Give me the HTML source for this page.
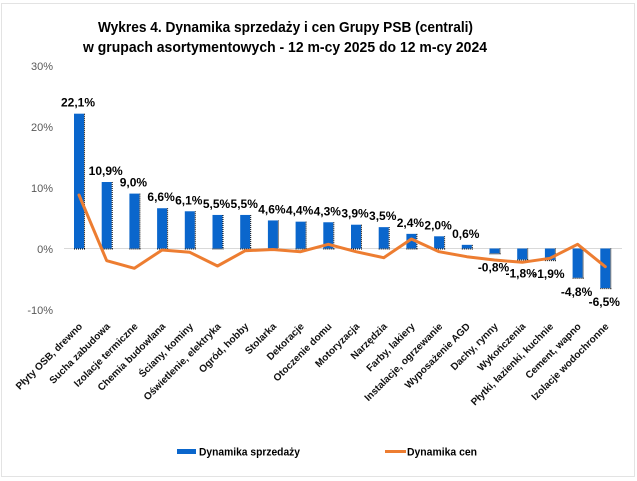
<!DOCTYPE html>
<html><head><meta charset="utf-8"><style>
html,body{margin:0;padding:0;background:#fff;}
svg{display:block;}
text{font-family:"Liberation Sans",sans-serif;}
</style></head><body>
<svg width="637" height="481" viewBox="0 0 637 481" xmlns="http://www.w3.org/2000/svg">
<rect x="0" y="0" width="637" height="481" fill="#fff"/>
<rect x="1.5" y="3.5" width="633" height="473" fill="none" stroke="#e3e3e3" stroke-width="1"/>
<text x="285.5" y="32" font-size="15" font-weight="bold" text-anchor="middle" textLength="375" lengthAdjust="spacingAndGlyphs" fill="#000">Wykres 4. Dynamika sprzedaży i cen Grupy PSB (centrali)</text>
<text x="285" y="52" font-size="15" font-weight="bold" text-anchor="middle" textLength="404" lengthAdjust="spacingAndGlyphs" fill="#000">w grupach asortymentowych - 12 m-cy 2025 do 12 m-cy 2024</text>
<g font-size="11" fill="#595959" text-anchor="end">
<text x="53" y="70">30%</text>
<text x="53" y="131">20%</text>
<text x="53" y="192">10%</text>
<text x="53" y="253">0%</text>
<text x="53" y="314">-10%</text>
</g>
<line x1="64" y1="248.5" x2="622" y2="248.5" stroke="#d9d9d9" stroke-width="1"/>
<g id="bars"></g>
<g id="lbl" font-size="12" font-weight="bold" fill="#000" text-anchor="middle"></g>
<g id="cat" font-size="10" font-weight="bold" fill="#111" text-anchor="end"></g>
<polyline id="ln" fill="none" stroke="#ED7D31" stroke-width="3" stroke-linejoin="round" stroke-linecap="round" points=""/>
<rect x="177" y="449" width="19" height="5" fill="#0A66CC"/>
<text x="199" y="455.5" font-size="11" font-weight="bold" textLength="101" lengthAdjust="spacingAndGlyphs" fill="#000">Dynamika sprzedaży</text>
<line x1="385" y1="451.5" x2="406" y2="451.5" stroke="#ED7D31" stroke-width="3"/>
<text x="407" y="455.5" font-size="11" font-weight="bold" textLength="70" lengthAdjust="spacingAndGlyphs" fill="#000">Dynamika cen</text>
</svg>
<script>
(function(){
var vals=[22.1,10.9,9.0,6.6,6.1,5.5,5.5,4.6,4.4,4.3,3.9,3.5,2.4,2.0,0.6,-0.8,-1.8,-1.9,-4.8,-6.5];
var lys=[195,260.7,268.3,250,252.3,266,250.7,249.5,251.7,244.3,251.7,257.7,239,251.7,256.7,260,262.3,258.3,244.3,266.7];
var cats=["Płyty OSB, drewno","Sucha zabudowa","Izolacje termiczne","Chemia budowlana","Ściany, kominy","Oświetlenie, elektryka","Ogród, hobby","Stolarka","Dekoracje","Otoczenie domu","Motoryzacja","Narzędzia","Farby, lakiery","Instalacje, ogrzewanie","Wyposażenie AGD","Dachy, rynny","Wykończenia","Płytki, łazienki, kuchnie","Cement, wapno","Izolacje wodochronne"];
var ns="http://www.w3.org/2000/svg";
var bars=document.getElementById("bars"),lbl=document.getElementById("lbl"),cat=document.getElementById("cat");
var pts=[];
function el(t,a,p,txt){var e=document.createElementNS(ns,t);for(var k in a)e.setAttribute(k,a[k]);if(txt)e.textContent=txt;p.appendChild(e);return e;}
for(var i=0;i<vals.length;i++){
 var cx=79+i*27.7,v=vals[i],y0=248.5,y1=248.5-v*6.1;
 var bt=Math.min(y0,y1),bh=Math.abs(y1-y0);
 el("rect",{x:cx-5,y:bt,width:10,height:bh,fill:"#0A66CC"},bars);
 el("line",{x1:cx+5.5,y1:bt,x2:cx+5.5,y2:bt+bh+1,stroke:"#000","stroke-width":1,"stroke-dasharray":"1,1"},bars);
 var by=bt+bh+0.5;
 el("line",{x1:cx-5,y1:by,x2:cx+6,y2:by,stroke:"#000","stroke-width":1,"stroke-dasharray":"1,1"},bars);
 var s=(v<0?"-":"")+Math.abs(v).toFixed(1).replace(".",",")+"%";
 var ly=v>=0?y1-7:y1+18;
 el("text",{x:cx-1,y:ly},lbl,s);
 el("text",{x:0,y:0,transform:"translate("+(cx+4)+",327) rotate(-45)"},cat,cats[i]);
 pts.push(cx.toFixed(1)+","+lys[i]);
}
document.getElementById("ln").setAttribute("points",pts.join(" "));
})();
</script>
</body></html>
